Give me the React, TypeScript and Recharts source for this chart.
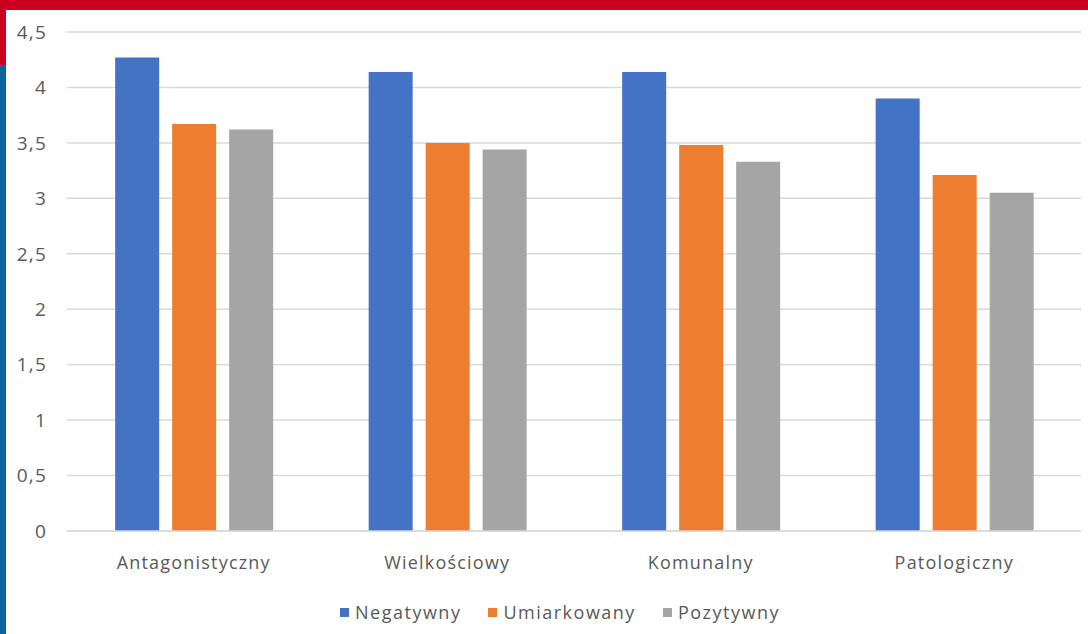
import { BarChart, Bar, XAxis, YAxis, CartesianGrid, Legend } from 'recharts'

const categories = ['Antagonistyczny', 'Wielkościowy', 'Komunalny', 'Patologiczny']
const negatywny = [4.27, 4.14, 4.14, 3.9]
const umiarkowany = [3.67, 3.5, 3.48, 3.21]
const pozytywny = [3.62, 3.44, 3.33, 3.05]
const yTicks = [0, 0.5, 1, 1.5, 2, 2.5, 3, 3.5, 4, 4.5]

const series = [
  { key: 'Negatywny', color: '#4472c4' },
  { key: 'Umiarkowany', color: '#ed7d31' },
  { key: 'Pozytywny', color: '#a5a5a5' }
]

const data = categories.map((name, i) => ({
  name,
  Negatywny: negatywny[i],
  Umiarkowany: umiarkowany[i],
  Pozytywny: pozytywny[i]
}))

const font = '"Open Sans", Lato, sans-serif'
const textColor = '#595959'

const fmt = (v: number) => String(v).replace('.', ',')

// keep legend entries in series order (recharts sorts them by name otherwise)
function LegendRow() {
  return (
    <div style={{ display: 'flex', justifyContent: 'center', gap: 27, paddingTop: 11, fontFamily: font, fontSize: 18, letterSpacing: 1.5, color: textColor }}>
      {series.map((s) => (
        <div key={s.key} style={{ display: 'flex', alignItems: 'center', gap: 6 }}>
          <span style={{ width: 9, height: 9, background: s.color, display: 'inline-block' }} />
          <span>{s.key}</span>
        </div>
      ))}
    </div>
  )
}

export default function App() {
  return (
    <div style={{ position: 'absolute', left: 0, top: 0, width: 1088, height: 634, background: '#ffffff', overflow: 'hidden' }}>
      {/* page frame: red top band, red/blue left strip */}
      <div style={{ position: 'absolute', left: 0, top: 0, width: 1088, height: 10, background: '#cc0020' }} />
      <div style={{ position: 'absolute', left: 0, top: 0, width: 6, height: 65, background: '#cc0020' }} />
      <div style={{ position: 'absolute', left: 0, top: 65, width: 6, height: 569, background: '#0b64a0' }} />
      <div style={{ position: 'absolute', left: 6, top: 10 }}>
        <BarChart
          width={1082}
          height={624}
          data={data}
          margin={{ top: 22, right: 7, left: 0, bottom: 10 }}
          barCategoryGap="19%"
          barGap={13}
        >
          <CartesianGrid vertical={false} stroke="#d9d9d9" strokeWidth={1.5} />
          <XAxis
            dataKey="name"
            axisLine={{ stroke: '#d9d9d9', strokeWidth: 1.5 }}
            tickLine={false}
            tickMargin={19}
            height={58}
            tick={{ fill: textColor, fontSize: 18, fontFamily: font, letterSpacing: 1.2 }}
          />
          <YAxis
            width={61}
            domain={[0, 4.5]}
            ticks={yTicks}
            tickFormatter={fmt}
            axisLine={false}
            tickLine={false}
            tickMargin={14}
            tick={{ fill: textColor, fontSize: 19, fontFamily: font, letterSpacing: 1.2 }}
          />
          <Legend
            verticalAlign="bottom"
            height={35}
            content={LegendRow}
            wrapperStyle={{ left: 20, width: 1068 }}
          />
          {series.map((s) => (
            <Bar key={s.key} dataKey={s.key} fill={s.color} isAnimationActive={false} />
          ))}
        </BarChart>
      </div>
    </div>
  )
}
